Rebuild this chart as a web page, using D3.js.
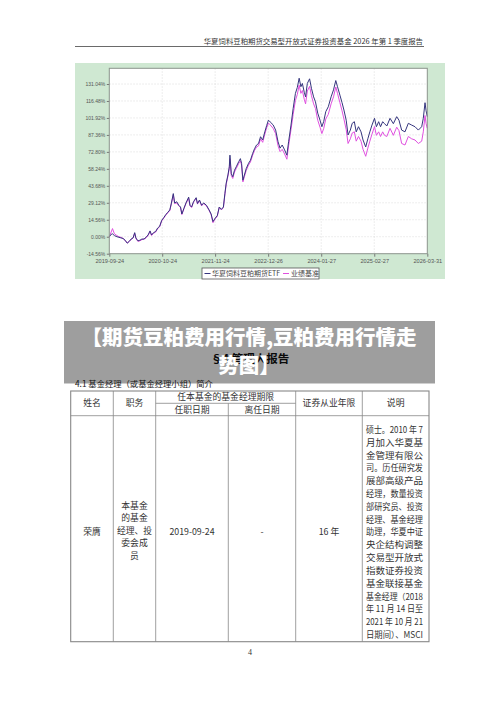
<!DOCTYPE html>
<html><head><meta charset="utf-8">
<script src="https://cdn.jsdelivr.net/npm/d3@7"></script>
<style>html,body{margin:0;padding:0;background:#fff;}svg{display:block;}</style>
</head><body>
<svg id="c" width="500" height="706"></svg>
<script>
// ---------------- data ----------------
const dates = ["2019-09-24","2019-10-08","2019-10-18","2019-11-01","2019-11-20","2019-12-05","2019-12-20","2020-01-05","2020-01-20","2020-02-05","2020-02-20","2020-03-05","2020-03-20","2020-04-01","2020-04-10","2020-04-25","2020-05-10","2020-05-25","2020-06-10","2020-06-25","2020-07-10","2020-07-25","2020-08-05","2020-08-20","2020-09-05","2020-09-20","2020-10-05","2020-10-20","2020-11-05","2020-11-20","2020-12-05","2020-12-20","2021-01-01","2021-01-15","2021-01-25","2021-02-10","2021-02-25","2021-03-10","2021-03-20","2021-04-05","2021-04-20","2021-05-10","2021-05-20","2021-06-01","2021-06-15","2021-07-05","2021-07-15","2021-07-30","2021-08-15","2021-08-30","2021-09-20","2021-10-10","2021-10-25","2021-11-08","2021-11-25","2021-12-10","2021-12-25","2022-01-10","2022-01-25","2022-02-05","2022-02-15","2022-02-28","2022-03-10","2022-03-15","2022-03-25","2022-04-05","2022-04-18","2022-05-01","2022-05-20","2022-06-01","2022-06-10","2022-06-20","2022-07-01","2022-07-15","2022-08-01","2022-08-15","2022-09-01","2022-09-15","2022-09-30","2022-10-15","2022-10-30","2022-11-15","2022-12-01","2022-12-15","2022-12-28","2023-01-10","2023-02-01","2023-02-20","2023-03-10","2023-03-25","2023-04-10","2023-04-28","2023-05-15","2023-05-28","2023-06-15","2023-07-01","2023-07-18","2023-08-01","2023-08-15","2023-08-28","2023-09-08","2023-09-22","2023-10-02","2023-10-15","2023-11-01","2023-11-15","2023-12-01","2023-12-15","2024-01-01","2024-01-18","2024-02-01","2024-02-15","2024-03-01","2024-03-20","2024-04-10","2024-04-28","2024-05-15","2024-05-28","2024-06-15","2024-07-01","2024-07-15","2024-08-01","2024-08-15","2024-09-01","2024-09-15","2024-10-01","2024-10-15","2024-11-01","2024-11-20","2024-12-05","2024-12-25","2025-01-10","2025-01-25","2025-02-10","2025-03-01","2025-03-15","2025-04-01","2025-04-15","2025-05-01","2025-05-15","2025-06-01","2025-06-25","2025-07-20","2025-08-14","2025-08-31","2025-09-20","2025-10-15","2025-11-09","2025-12-04","2025-12-29","2026-01-23","2026-02-17","2026-03-01","2026-03-14","2026-03-22","2026-03-31"];
const fundValues = [0,2,2.5,1,0,-0.5,-1,-1.5,-3,-5.5,-4,-2,-1,3.5,-1,-3.5,-3,-2,-2,-0.5,1.5,5,1.5,3.5,4.5,7.5,9,14,16.5,19,21,23,29,37,29,30,27,25.5,19.5,24.5,29,34,27,25.5,30,33.5,28.5,31.5,27,29,27,23,19.5,13,16,18,25.5,23.5,25.5,37,46,53,60,70,54,51.5,57,60,64.5,67,63,48.5,53,58.5,63,65.5,71.5,75.5,78.7,80,85.8,83,90,95.5,100,98.5,96,91.5,81.5,76,78.7,74.5,70,81.5,95.8,110,123,128,136,128.7,131.5,124,120,131.5,135.5,127.3,120,115.8,106,100,94.4,99,107.3,111.5,120,126,134,128.7,121.5,115,108.7,100,87.3,91.5,97.3,98.7,90,94.4,90,83,77,84,90,95.8,101.6,94.4,98.7,94.4,98.7,97,95,101.6,97,103,100,91.5,90,97.3,95.8,94.4,91.5,94.4,101.6,115,108,103];
const benchValues = [0,4,7,2.5,1,0,-0.5,-1.5,-3,-5.5,-4,-2.5,-1,3,-1.5,-4,-3.5,-2.5,-2,-1,1,4.5,1,3,4,7,8.5,13.5,16,18.5,20.5,22.5,28.5,36,28.5,29,26.5,25,19,24,28.5,33,26.5,25,29.5,33,28,31,26.5,28.5,26.5,22.5,19,12,15.5,17.5,25,23,25,36,45,52,58.5,67,52.5,50,55.5,58.5,63,65,61.5,47,51.5,57,61.5,64,70,74,77,78,84,81,88,93.5,97.5,96,93,88.5,78,73,75,71,66.5,78,92,105,117,122,130,123,125.5,118,114,125,129,121,114,110,100,94,88.5,93,101,105,114,120,128.5,123,115,108,101,92,80,84,89,90,82,86,82,75,69,76,82,88,94.5,87,90,86,90,87,86,93,87,94,91,80,78.7,86,84,83,80,82,90,104,97,93];
const yTicks = [-14.56, 0, 14.56, 29.12, 43.68, 58.24, 72.80, 87.36, 101.92, 116.48, 131.04];
const xTickLabels = ["2019-09-24","2020-10-24","2021-11-24","2022-12-26","2024-01-27","2025-02-27","2026-03-31"];
const seriesNames = ["华夏饲料豆粕期货ETF","业绩基准"];
const headerText = "华夏饲料豆粕期货交易型开放式证券投资基金 2026 年第 1 季度报告";
const bannerLines = ["【期货豆粕费用行情,豆粕费用行情走","势图】"];
const tableHeadTop = ["姓名","职务","任本基金的基金经理期限","证券从业年限","说明"];
const tableHeadSub = ["任职日期","离任日期"];
const rowName = "荣膺";
const rowRole = ["本基金","的基金","经理、投","委会成","员"];
const rowStart = "2019-09-24";
const rowEnd = "-";
const rowYears = "16 年";
const rowDesc = ["硕士。2010 年 7","月加入华夏基","金管理有限公","司。历任研究发","展部高级产品","经理，数量投资","部研究员、投资","经理、基金经理","助理，华夏中证","央企结构调整","交易型开放式","指数证券投资","基金联接基金","基金经理（2018","年 11 月 14 日至","2021 年 10 月 21","日期间）、MSCI"];

// ---------------- drawing ----------------
const svg = d3.select("#c");
const CJK = "'Noto Sans CJK SC','Noto Sans',sans-serif";
const parse = d3.timeParse("%Y-%m-%d");
const fund = dates.map((d,i)=>({date:parse(d), v:fundValues[i]}));
const bench = dates.map((d,i)=>({date:parse(d), v:benchValues[i]}));

svg.append("rect").attr("width",500).attr("height",706).attr("fill","#fff");

// header
svg.append("text").attr("x",423).attr("y",44).attr("text-anchor","end")
  .attr("font-family",CJK).attr("font-size",7.4).attr("fill","#333").text(headerText);
svg.append("line").attr("x1",75).attr("x2",424).attr("y1",46.5).attr("y2",46.5)
  .attr("stroke","#444").attr("stroke-width",0.8);

// chart frame
svg.append("rect").attr("x",75).attr("y",63).attr("width",370).attr("height",216).attr("fill","#cfe8d2");
const L=109.3, R=427.3, T=68.3, B=253.7;
svg.append("rect").attr("x",L).attr("y",T).attr("width",R-L).attr("height",B-T).attr("fill","#fff");

const x = d3.scaleTime().domain([parse("2019-09-24"), parse("2026-03-31")]).range([L,R]);
const y = d3.scaleLinear().domain([-14.56,131.04]).range([B,84]);

// grid
const g = svg.append("g");
g.selectAll("line.hy").data(yTicks.slice(1)).join("line")
  .attr("x1",L).attr("x2",R).attr("y1",d=>y(d)).attr("y2",d=>y(d))
  .attr("stroke","#d8d8d8").attr("stroke-width",0.6).attr("stroke-dasharray","1.5,1.5");
g.selectAll("line.vx").data(xTickLabels.slice(1,-1)).join("line")
  .attr("x1",d=>x(parse(d))).attr("x2",d=>x(parse(d))).attr("y1",T).attr("y2",B)
  .attr("stroke","#d8d8d8").attr("stroke-width",0.6).attr("stroke-dasharray","1.5,1.5");

// axes
const yAxis = d3.axisLeft(y).tickValues(yTicks).tickSize(2.5).tickFormat(d=>d.toFixed(2)+"%");
const ya = svg.append("g").attr("transform",`translate(${L},0)`).call(yAxis);
ya.select(".domain").remove();
ya.selectAll("line").attr("stroke","#777");
ya.selectAll("text").attr("font-family","'Liberation Sans',sans-serif").attr("font-size",5).attr("fill","#555").attr("x",-4);

const xAxis = d3.axisBottom(x).tickValues(xTickLabels.map(parse)).tickSize(3).tickFormat(d3.timeFormat("%Y-%m-%d"));
const xa = svg.append("g").attr("transform",`translate(0,${B})`).call(xAxis);
xa.select(".domain").remove();
xa.selectAll("line").attr("stroke","#777");
xa.selectAll("text").attr("font-family","'Liberation Sans',sans-serif").attr("font-size",5.6).attr("fill","#555").attr("y",5);

// lines
const line = d3.line().x(d=>x(d.date)).y(d=>y(d.v));
svg.append("path").datum(bench).attr("d",line).attr("fill","none").attr("stroke","#e050e0").attr("stroke-width",1);
svg.append("path").datum(fund).attr("d",line).attr("fill","none").attr("stroke","#35357e").attr("stroke-width",1);

// plot border
svg.append("rect").attr("x",L).attr("y",T).attr("width",R-L).attr("height",B-T)
  .attr("fill","none").attr("stroke","#8c948c").attr("stroke-width",1);

// legend
const lg = svg.append("g");
lg.append("rect").attr("x",202).attr("y",268).attr("width",117).attr("height",11)
  .attr("fill","#fff").attr("stroke","#555").attr("stroke-width",0.8);
const legendItems = [{name:seriesNames[0], color:"#35357e", lx:204.5, tx:212},{name:seriesNames[1], color:"#e050e0", lx:283, tx:291}];
legendItems.forEach(it=>{
  lg.append("line").attr("x1",it.lx).attr("x2",it.lx+6).attr("y1",273.5).attr("y2",273.5).attr("stroke",it.color).attr("stroke-width",1);
  lg.append("text").attr("x",it.tx).attr("y",276.2).attr("font-family",CJK).attr("font-size",7).attr("fill","#444").text(it.name);
});

// section heading (under banner)
svg.append("text").attr("x",250).attr("y",362.5).attr("text-anchor","middle")
  .attr("font-family",CJK).attr("font-weight",700).attr("font-size",11.5).attr("fill","#111").text("§4 管理人报告");
svg.append("text").attr("x",75).attr("y",386.5)
  .attr("font-family",CJK).attr("font-size",8.3).attr("fill","#222").text("4.1 基金经理（或基金经理小组）简介");

// banner
svg.append("rect").attr("x",64).attr("y",321).attr("width",371).attr("height",62.5).attr("fill","rgba(0,0,0,0.38)");
bannerLines.forEach((t,i)=>{
  svg.append("text").attr("x",249).attr("y",345+i*27.5).attr("text-anchor","middle")
    .attr("font-family",CJK).attr("font-weight",900).attr("font-size",20.5).attr("fill","#fff").text(t);
});

// table
const cols=[70.7,113.3,155.7,228.3,295.7,362.3,429];
const tT=391, tM=403.3, tH=415.7, tB=641.7;
const tg = svg.append("g").attr("stroke","#888").attr("stroke-width",0.8);
tg.append("rect").attr("x",cols[0]).attr("y",tT).attr("width",cols[6]-cols[0]).attr("height",tB-tT).attr("fill","none").attr("stroke-width",1.1);
cols.slice(1,-1).forEach((c,i)=>{
  const idx=i+1;
  const y1 = (idx===3)? tM : tT;
  tg.append("line").attr("x1",c).attr("x2",c).attr("y1",y1).attr("y2",tB);
});
tg.append("line").attr("x1",cols[2]).attr("x2",cols[4]).attr("y1",tM).attr("y2",tM);
tg.append("line").attr("x1",cols[0]).attr("x2",cols[6]).attr("y1",tH).attr("y2",tH);

const tx = svg.append("g").attr("font-family",CJK).attr("font-size",8.8).attr("fill","#333").attr("text-anchor","middle");
const cc = i=>(cols[i]+cols[i+1])/2;
const mid = (tT+tH)/2;
tx.append("text").attr("x",cc(0)).attr("y",mid+3).text(tableHeadTop[0]);
tx.append("text").attr("x",cc(1)).attr("y",mid+3).text(tableHeadTop[1]);
tx.append("text").attr("x",(cols[2]+cols[4])/2).attr("y",(tT+tM)/2+3).text(tableHeadTop[2]);
tx.append("text").attr("x",cc(2)).attr("y",(tM+tH)/2+3).text(tableHeadSub[0]);
tx.append("text").attr("x",cc(3)).attr("y",(tM+tH)/2+3).text(tableHeadSub[1]);
tx.append("text").attr("x",cc(4)).attr("y",mid+3).text(tableHeadTop[3]);
tx.append("text").attr("x",cc(5)).attr("y",mid+3).text(tableHeadTop[4]);

const rowMid = 531.7;
tx.append("text").attr("x",cc(0)).attr("y",rowMid+3).text(rowName);
rowRole.forEach((t,i)=>tx.append("text").attr("x",cc(1)).attr("y",rowMid-1+(i-2)*12.5+3).text(t));
tx.append("text").attr("x",cc(2)).attr("y",rowMid+3).text(rowStart);
tx.append("text").attr("x",cc(3)).attr("y",rowMid+3).text(rowEnd);
tx.append("text").attr("x",cc(4)).attr("y",rowMid+3).text(rowYears);
rowDesc.forEach((t,i)=>{
  tx.append("text").attr("x",366).attr("y",430+i*12.81+3).attr("text-anchor","start")
    .attr("textLength",57).attr("lengthAdjust","spacingAndGlyphs").text(t);
});

// page number
svg.append("text").attr("x",250).attr("y",655).attr("text-anchor","middle")
  .attr("font-family","'Liberation Serif',serif").attr("font-size",8).attr("fill","#333").text("4");
</script>
</body></html>
